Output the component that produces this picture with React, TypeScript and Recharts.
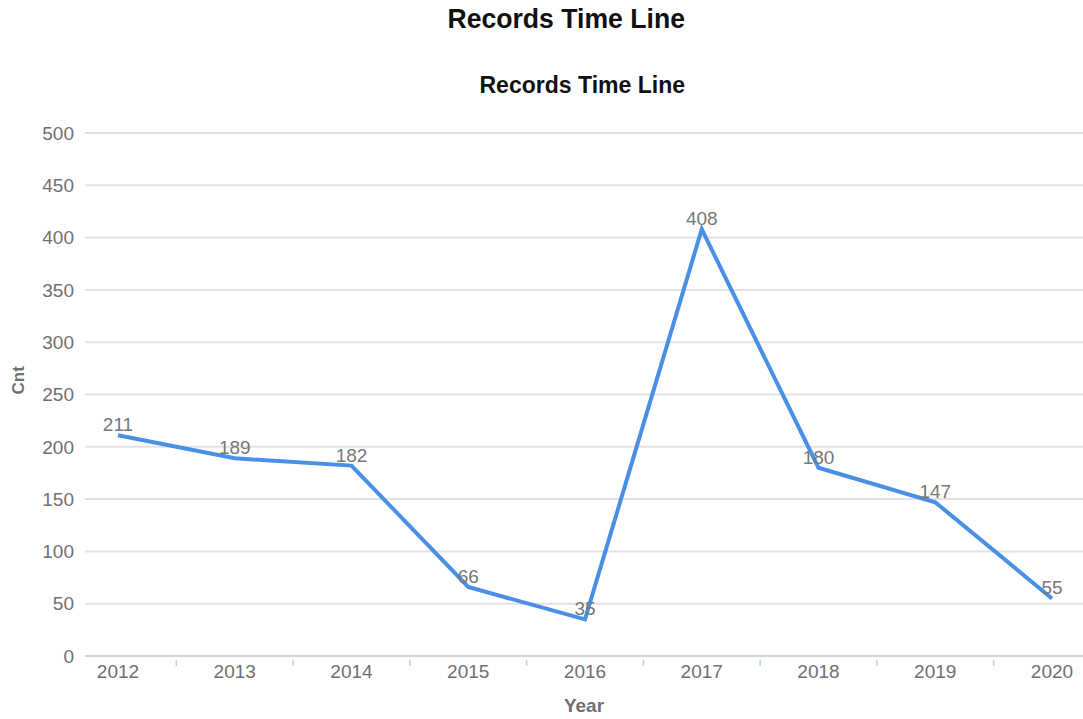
import { LineChart, Line, XAxis, YAxis, CartesianGrid, LabelList } from 'recharts';

const years = ['2012', '2013', '2014', '2015', '2016', '2017', '2018', '2019', '2020'];
const counts = [211, 189, 182, 66, 35, 408, 180, 147, 55];
const yTicks = [0, 50, 100, 150, 200, 250, 300, 350, 400, 450, 500];

const data = years.map((year, i) => ({ year, cnt: counts[i] }));

const FONT = '"Liberation Sans", Arial, sans-serif';

// year label plus a small tick halfway to the next category
const YearTick = (props: any) => {
  const { x, y, payload, index } = props;
  const step = 116.75;
  return (
    <g>
      <text x={x} y={y + 14} textAnchor="middle" fontSize={19} fill="#707070" fontFamily={FONT}>
        {payload.value}
      </text>
      {index < years.length - 1 && (
        <line x1={x + step / 2} x2={x + step / 2} y1={y - 4} y2={y + 2} stroke="#b8d2ea" strokeWidth={1.5} />
      )}
    </g>
  );
};

export default function App() {
  return (
    <div style={{ position: 'absolute', left: 0, top: 0, width: 1083, height: 719, background: '#fff', fontFamily: FONT }}>
      <div style={{ position: 'absolute', left: 0, width: 1083, top: 3, textAlign: 'center', fontSize: 28, fontWeight: 'bold', color: '#111', paddingLeft: 52, boxSizing: 'border-box', transform: 'scaleX(0.95)' }}>
        Records Time Line
      </div>
      <div style={{ position: 'absolute', left: 0, width: 1083, top: 71, textAlign: 'center', fontSize: 24, fontWeight: 'bold', color: '#111', paddingLeft: 85, boxSizing: 'border-box', transform: 'scaleX(0.96)' }}>
        Records Time Line
      </div>
      <LineChart width={1083} height={719} data={data} margin={{ top: 133, right: 0, bottom: 0, left: 0 }}>
        <CartesianGrid vertical={false} stroke="#e2e2e2" strokeWidth={2} />
        <XAxis
          dataKey="year"
          height={63}
          padding={{ left: 33, right: 31 }}
          axisLine={{ stroke: '#cdd6de', strokeWidth: 2 }}
          tickLine={false}
          tick={<YearTick />}
          interval={0}
          label={{ value: 'Year', position: 'insideBottom', offset: 7, fontSize: 19, fontWeight: 'bold', fill: '#707070', fontFamily: FONT }}
        />
        <YAxis
          width={85}
          domain={[0, 500]}
          ticks={yTicks}
          axisLine={false}
          tickLine={false}
          tickSize={0}
          tickMargin={11}
          tick={{ fontSize: 19, fill: '#707070', fontFamily: FONT }}
          label={{ value: 'Cnt', angle: -90, position: 'insideLeft', offset: 18, fontSize: 17, fontWeight: 'bold', fill: '#707070', fontFamily: FONT }}
        />
        <Line
          type="linear"
          dataKey="cnt"
          stroke="#4a8fe6"
          strokeWidth={4}
          dot={false}
          activeDot={false}
          isAnimationActive={false}
        >
          <LabelList dataKey="cnt" position="top" offset={4} fontSize={19} fill="#777" fontFamily={FONT} />
        </Line>
      </LineChart>
    </div>
  );
}
